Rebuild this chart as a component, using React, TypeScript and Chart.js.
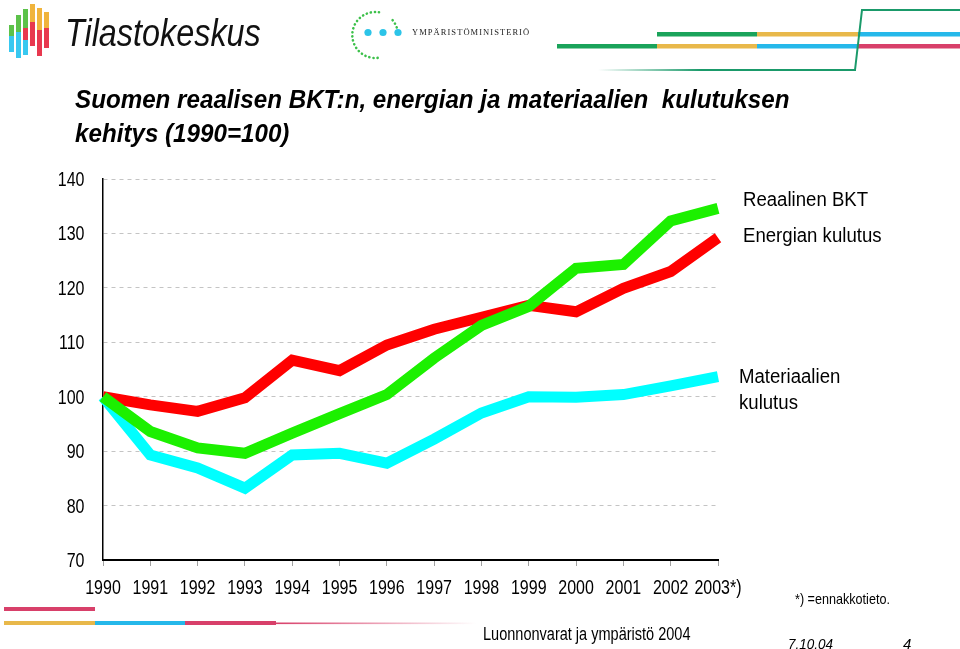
import React, { useEffect, useRef } from 'react';
import { Chart, registerables } from 'chart.js';

Chart.register(...registerables);

// ---- Data (1990 = 100) ----
const years = ['1990', '1991', '1992', '1993', '1994', '1995', '1996', '1997', '1998', '1999', '2000', '2001', '2002', '2003*)'];
const reaalinenBKT = [100, 98.5, 97.3, 99.8, 106.7, 104.8, 109.5, 112.4, 114.6, 116.8, 115.6, 119.9, 123.0, 129.2];
const energianKulutus = [100, 93.6, 90.6, 89.6, 93.3, 96.9, 100.4, 107.1, 113.1, 116.6, 123.6, 124.3, 132.3, 134.6];
const materiaalienKulutus = [100, 89.3, 86.9, 83.2, 89.3, 89.6, 87.8, 92.2, 97.0, 100.0, 99.9, 100.4, 102.0, 103.7];
const yMin = 70;
const yMax = 140;
const yStep = 10;

const titleLines = ['Suomen reaalisen BKT:n, energian ja materiaalien  kulutuksen', 'kehitys (1990=100)'];

const SANS = '"Liberation Sans", Arial, sans-serif';

function Txt(props: { x: number; baseline: number; size: number; text: string; family?: string; italic?: boolean; bold?: boolean; scaleX?: number; spacing?: number; color?: string }) {
  const { x, baseline, size, text, family = SANS, italic, bold, scaleX = 1, spacing = 0, color = '#000' } = props;
  return (
    <div
      style={{
        position: 'absolute',
        left: x,
        top: baseline - 0.8465 * size,
        fontFamily: family,
        fontSize: size,
        lineHeight: 1,
        fontStyle: italic ? 'italic' : 'normal',
        fontWeight: bold ? 'bold' : 'normal',
        whiteSpace: 'pre',
        color,
        letterSpacing: spacing,
        transform: scaleX !== 1 ? `scaleX(${scaleX})` : undefined,
        transformOrigin: 'left center',
      }}
    >
      {text}
    </div>
  );
}

const G = '#1aa35a';
const Y = '#e8b84a';
const C = '#25b8ea';
const R = '#d8406a';

function Decorations() {
  return (
    <svg width={960} height={649} style={{ position: 'absolute', left: 0, top: 0, pointerEvents: 'none' }}>
      <defs>
        <linearGradient id="fadeG" x1="0" x2="1" y1="0" y2="0">
          <stop offset="0" stopColor="#1a9a6a" stopOpacity="0" />
          <stop offset="0.4" stopColor="#1a9a6a" stopOpacity="1" />
          <stop offset="1" stopColor="#1a9a6a" stopOpacity="1" />
        </linearGradient>
        <linearGradient id="fadeR" x1="0" x2="1" y1="0" y2="0">
          <stop offset="0" stopColor={R} stopOpacity="1" />
          <stop offset="1" stopColor={R} stopOpacity="0" />
        </linearGradient>
      </defs>
      {/* Tilastokeskus bars */}
      <rect x={9} y={25} width={5} height={11} fill="#5cc24a" />
      <rect x={9} y={36} width={5} height={16} fill="#38c8f0" />
      <rect x={16} y={15} width={5} height={17} fill="#5cc24a" />
      <rect x={16} y={32} width={5} height={26} fill="#38c8f0" />
      <rect x={23} y={9} width={5} height={19} fill="#5cc24a" />
      <rect x={23} y={28} width={5} height={12} fill="#e8384f" />
      <rect x={23} y={40} width={5} height={15} fill="#38c8f0" />
      <rect x={30} y={4} width={5} height={18} fill="#f0b43c" />
      <rect x={30} y={22} width={5} height={24} fill="#e8384f" />
      <rect x={37} y={8} width={5} height={22} fill="#f0b43c" />
      <rect x={37} y={30} width={5} height={26} fill="#e8384f" />
      <rect x={44} y={12} width={5} height={16} fill="#f0b43c" />
      <rect x={44} y={28} width={5} height={20} fill="#e8384f" />

      {/* Ympäristöministeriö logo */}
      <path d="M 379 12.3 A 23 23 0 1 0 379 57.7" fill="none" stroke="#3cc04a" strokeWidth={2.6} strokeDasharray="0.1 4" strokeLinecap="round" />
      <path d="M 392.6 20.2 A 23 23 0 0 1 398 35" fill="none" stroke="#3cc04a" strokeWidth={2.6} strokeDasharray="0.1 4" strokeLinecap="round" />
      <circle cx={368} cy={32.5} r={3.6} fill="#2cc4e8" />
      <circle cx={383} cy={32.5} r={3.6} fill="#2cc4e8" />
      <circle cx={398} cy={32.5} r={3.6} fill="#2cc4e8" />

      {/* Top-right stripes */}
      <rect x={657} y={32} width={100} height={4.5} fill={G} />
      <rect x={757} y={32} width={101} height={4.5} fill={Y} />
      <rect x={858} y={32} width={102} height={4.5} fill={C} />
      <rect x={557} y={44} width={100} height={4.5} fill={G} />
      <rect x={657} y={44} width={100} height={4.5} fill={Y} />
      <rect x={757} y={44} width={101} height={4.5} fill={C} />
      <rect x={858} y={44} width={102} height={4.5} fill={R} />
      <rect x={598} y={69} width={258} height={2} fill="url(#fadeG)" />
      <polyline points="855,70 862,10 960,10" fill="none" stroke="#1a9a6a" strokeWidth={2} />

      {/* Bottom-left stripes */}
      <rect x={4} y={607} width={91} height={4} fill={R} />
      <rect x={4} y={621} width={91} height={4} fill={Y} />
      <rect x={95} y={621} width={90} height={4} fill={C} />
      <rect x={185} y={621} width={91} height={4} fill={R} />
      <rect x={276} y={622.5} width={200} height={1.6} fill="url(#fadeR)" />
    </svg>
  );
}

// Draws the scales' own tick labels in a condensed (narrow) style.
const condensedTickLabels = {
  id: 'condensedTickLabels',
  afterDraw(chart: any) {
    const ctx = chart.ctx as CanvasRenderingContext2D;
    const xs = chart.scales.x;
    const ys = chart.scales.y;
    ctx.save();
    ctx.fillStyle = '#000';
    ctx.textBaseline = 'alphabetic';
    ctx.font = `20px ${SANS}`;
    ctx.textAlign = 'center';
    xs.ticks.forEach((t: any, i: number) => {
      const label = xs.getLabelForValue(t.value);
      const x = xs.getPixelForTick(i);
      ctx.save();
      ctx.translate(x, xs.top + 34);
      ctx.scale(0.8, 1);
      ctx.fillText(String(label), 0, 0);
      ctx.restore();
    });
    ctx.font = `19.5px ${SANS}`;
    ctx.textAlign = 'right';
    ys.ticks.forEach((t: any, i: number) => {
      const y = ys.getPixelForTick(i);
      ctx.save();
      ctx.translate(ys.right - 18.5, y + 7);
      ctx.scale(0.82, 1);
      ctx.fillText(String(t.value), 0, 0);
      ctx.restore();
    });
    ctx.restore();
  },
};

export default function App() {
  const ref = useRef<HTMLCanvasElement>(null);

  useEffect(() => {
    if (!ref.current) return;
    const chart = new Chart(ref.current, {
      type: 'line',
      data: {
        labels: years,
        datasets: [
          { label: 'Energian kulutus', data: energianKulutus, borderColor: '#1cf000', backgroundColor: '#1cf000' },
          { label: 'Reaalinen BKT', data: reaalinenBKT, borderColor: '#ff0000', backgroundColor: '#ff0000' },
          { label: 'Materiaalien kulutus', data: materiaalienKulutus, borderColor: '#00ffff', backgroundColor: '#00ffff' },
        ],
      },
      options: {
        responsive: false,
        animation: false,
        devicePixelRatio: 1,
        layout: { padding: { top: 179, right: 242, bottom: 0, left: 0 } },
        plugins: {
          legend: { display: false },
          tooltip: { enabled: false },
          title: { display: false },
        },
        elements: {
          point: { radius: 0 },
          line: { tension: 0, borderWidth: 11, borderCapStyle: 'butt', borderJoinStyle: 'miter', fill: false },
        },
        scales: {
          x: {
            type: 'category',
            offset: false,
            grid: { drawOnChartArea: false, drawTicks: true, tickLength: 6, color: '#a0a0a0' },
            border: { color: '#000', width: 2 },
            ticks: { display: false, autoSkip: false, maxRotation: 0 },
            afterFit: (s: any) => { s.height = 89; },
          },
          y: {
            min: yMin,
            max: yMax,
            ticks: { stepSize: yStep, display: false },
            grid: {
              drawTicks: false,
              color: (ctx: any) => (ctx.tick && ctx.tick.value === yMin ? 'rgba(0,0,0,0)' : '#c4c4c4'),
            },
            border: { color: '#000', width: 1.5, dash: [4, 4] },
            afterFit: (s: any) => { s.width = 103; },
          },
        },
      } as any,
      plugins: [condensedTickLabels],
    });
    return () => chart.destroy();
  }, []);

  return (
    <div style={{ position: 'fixed', left: 0, top: 0, width: 960, height: 649, background: '#fff', overflow: 'hidden' }}>
      <canvas ref={ref} width={960} height={649} style={{ position: 'absolute', left: 0, top: 0, display: 'block' }} />
      <Decorations />
      <Txt x={65} baseline={46} size={39} text="Tilastokeskus" italic color="#111" scaleX={0.83} />
      <Txt x={412} baseline={35} size={8.5} text="YMPÄRISTÖMINISTERIÖ" family='"Liberation Serif", "DejaVu Serif", serif' spacing={1.05} color="#222" />
      <Txt x={75} baseline={108} size={26} text={titleLines[0]} bold italic scaleX={0.93} />
      <Txt x={75} baseline={142} size={26} text={titleLines[1]} bold italic scaleX={0.93} />
      <Txt x={743} baseline={206} size={20} text="Reaalinen BKT" scaleX={0.93} />
      <Txt x={743} baseline={242} size={20} text="Energian kulutus" scaleX={0.93} />
      <Txt x={739} baseline={383} size={20} text="Materiaalien" scaleX={0.93} />
      <Txt x={739} baseline={409} size={20} text="kulutus" scaleX={0.93} />
      <Txt x={795} baseline={604} size={15} text="*) =ennakkotieto." scaleX={0.84} />
      <Txt x={483} baseline={641} size={17.5} text="Luonnonvarat ja ympäristö 2004" scaleX={0.83} />
      <Txt x={788} baseline={649} size={15} text="7.10.04" italic scaleX={0.9} />
      <Txt x={903} baseline={649} size={15} text="4" italic />
    </div>
  );
}
